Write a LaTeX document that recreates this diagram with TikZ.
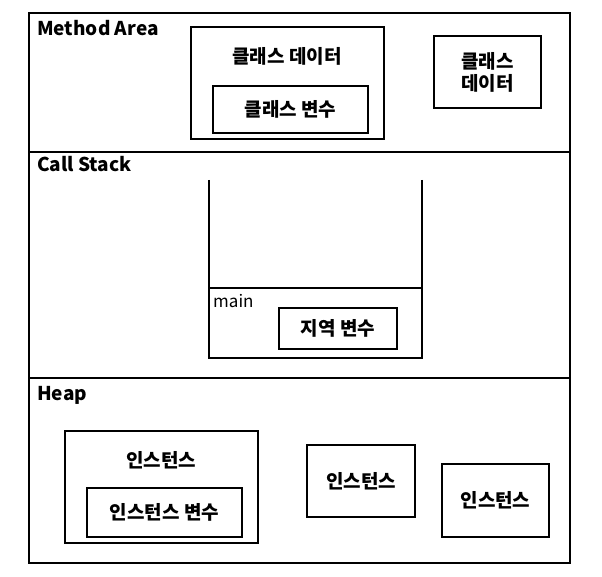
\documentclass[tikz,border=0pt]{standalone}
\usepackage{fontspec}
\setmainfont{Noto Sans CJK KR}
\begin{document}
\begin{tikzpicture}[x=1pt,y=-1pt,
  box/.style={draw,line width=2pt,outer sep=0pt,anchor=north west,inner sep=0pt,align=center,font=\fontsize{19}{22}\selectfont\bfseries},
  lbl/.style={anchor=west,inner sep=0pt,font=\fontsize{19}{22}\selectfont\bfseries},
  ttl/.style={inner sep=0pt,font=\fontsize{19}{22}\selectfont\bfseries}]
\useasboundingbox (0,0) rectangle (602,577);
% outer frame
\node[box,minimum width=541pt,minimum height=550pt] (frame) at (29,13) {};
\coordinate (l1a) at (29,152); \coordinate (l1b) at (570,152);
\coordinate (l2a) at (29,378); \coordinate (l2b) at (570,378);
\draw[line width=2pt] (l1a) -- (l1b);
\draw[line width=2pt] (l2a) -- (l2b);
% Method area
\node[lbl] (ma) at (37,28) {Method Area};
\node[box,minimum width=193pt,minimum height=112pt] (cd) at (191,27) {};
\node[ttl] (cdt) at (287,56) {클래스 데이터};
\node[box,minimum width=155pt,minimum height=47pt] (cv) at (213,86) {클래스 변수};
\node[box,minimum width=107pt,minimum height=72pt] (cd2) at (434,36) {클래스\\데이터};
% Call stack
\node[lbl] (cs) at (37,164) {Call Stack};
\node[box,minimum width=213pt,minimum height=70pt] (mf) at (209,288) {};
\coordinate (wl) at (209,180); \coordinate (wr) at (422,180);
\draw[line width=2pt] (wl) -- (mf.north west);
\draw[line width=2pt] (wr) -- (mf.north east);
\node[lbl,font=\fontsize{17}{20}\selectfont] (mn) at (213,301) {main};
\node[box,minimum width=118pt,minimum height=41pt] (lv) at (279,308) {지역 변수};
% Heap
\node[lbl] (hp) at (37,395) {Heap};
\node[box,minimum width=193pt,minimum height=112pt] (in1) at (65,431) {};
\node[ttl] (in1t) at (161,460) {인스턴스};
\node[box,minimum width=155pt,minimum height=49pt] (iv) at (87,488) {인스턴스 변수};
\node[box,minimum width=108pt,minimum height=72pt] (in2) at (307,445) {인스턴스};
\node[box,minimum width=107pt,minimum height=73pt] (in3) at (442,464) {인스턴스};
\end{tikzpicture}
\end{document}
